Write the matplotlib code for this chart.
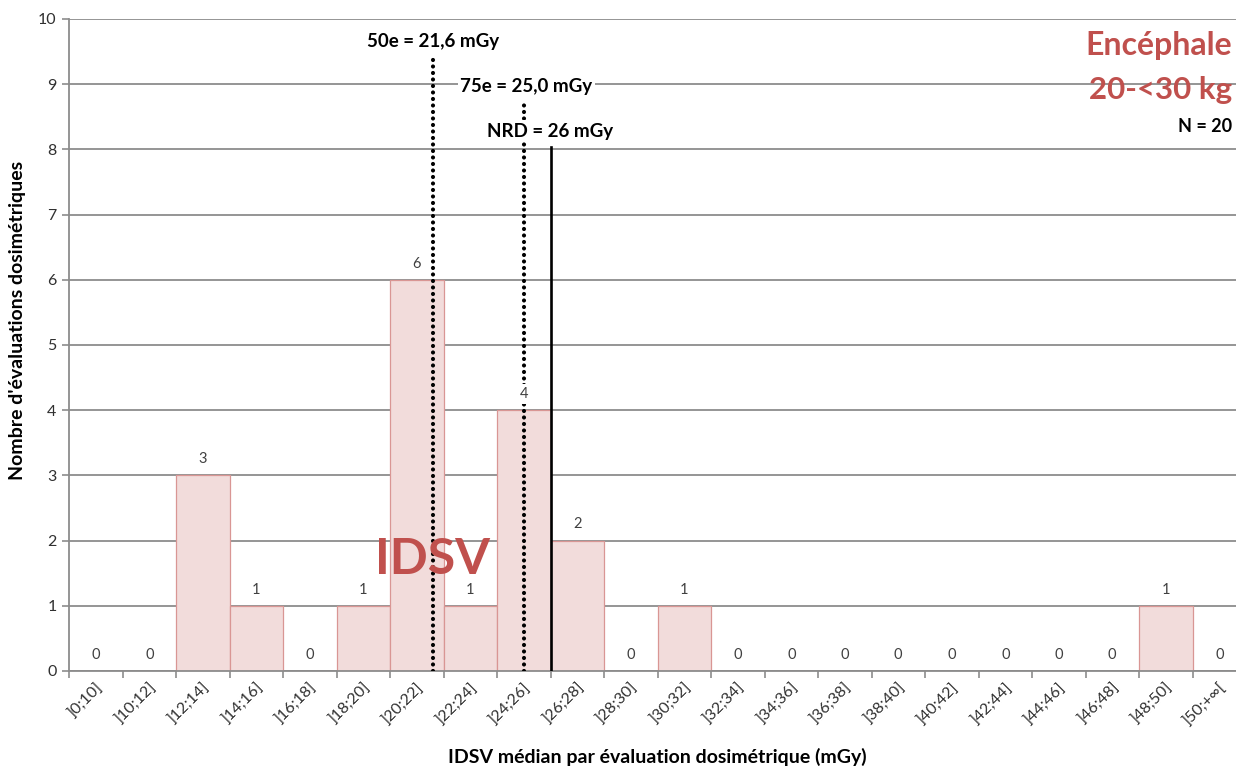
import numpy as np
import matplotlib
matplotlib.use("Agg")
import matplotlib.pyplot as plt

plt.rcParams['font.family'] = ['Lato', 'DejaVu Sans']

# Histogram bins (mGy) and number of dosimetric evaluations per bin
categories = [']0;10]', ']10;12]', ']12;14]', ']14;16]', ']16;18]', ']18;20]',
              ']20;22]', ']22;24]', ']24;26]', ']26;28]', ']28;30]', ']30;32]',
              ']32;34]', ']34;36]', ']36;38]', ']38;40]', ']40;42]', ']42;44]',
              ']44;46]', ']46;48]', ']48;50]', ']50;+∞[']
counts = [0, 0, 3, 1, 0, 1, 6, 1, 4, 2, 0, 1, 0, 0, 0, 0, 0, 0, 0, 0, 1, 0]

# Reference values (mGy)
p50 = 21.6
p75 = 25.0
nrd = 26

RED = '#C0504D'
GRID = '#8C8C8C'
TXT = '#404040'


def dose_to_x(v):
    """Place a dose value on the category axis (bins of 2 mGy above 10)."""
    return (v - 10) / 2 + 0.5


fig = plt.figure(figsize=(12.36, 7.67), dpi=100)
ax = fig.add_axes([69 / 1236, 1 - 671 / 767, (1246 - 69) / 1236, (671 - 19) / 767])

x = np.arange(len(categories))
ax.bar(x, counts, width=1.0, color='#F2DCDB', edgecolor='#D99694',
       linewidth=0.9, zorder=2)

for xi, c in zip(x, counts):
    ax.text(xi, c + 0.25, str(c), ha='center', va='center', fontsize=10.5,
            color=TXT, zorder=4,
            bbox=dict(boxstyle='square,pad=0.2', fc='white', ec='none') if c > 0 else None)

ax.set_xlim(-0.5, len(categories) - 0.5)
ax.set_ylim(0, 10)
ax.set_yticks(range(0, 11))
ax.yaxis.grid(True, color=GRID, linewidth=1.3, zorder=0)
ax.set_axisbelow(True)

ax.set_xticks(x)
ax.set_xticklabels(categories, rotation=45, ha='right', rotation_mode='anchor',
                   fontsize=11.5, color='#303030')
ax.set_xticks(np.arange(-0.5, len(categories) + 0.5, 1), minor=True)
ax.tick_params(axis='x', which='major', length=0, pad=7)
ax.tick_params(axis='x', which='minor', length=5, color=GRID, width=1.2)
ax.tick_params(axis='y', length=5, color=GRID, width=1.2, labelsize=11.5,
               labelcolor='#303030', pad=4)

for side in ['top', 'right']:
    ax.spines[side].set_visible(False)
for side in ['left', 'bottom']:
    ax.spines[side].set_color(GRID)
    ax.spines[side].set_linewidth(1.3)

# Percentile and NRD markers
dotted = (0, (0.01, 1.55))
ax.plot([dose_to_x(p50)] * 2, [0, 9.42], color='black', lw=3.0,
        linestyle=dotted, dash_capstyle='round', solid_capstyle='round', zorder=3)
ax.plot([dose_to_x(p75)] * 2, [0, 8.76], color='black', lw=3.0,
        linestyle=dotted, dash_capstyle='round', solid_capstyle='round', zorder=3)
ax.plot([dose_to_x(nrd)] * 2, [0, 8.04], color='black', lw=1.9, zorder=3)

lbl_box = dict(boxstyle='square,pad=0.15', fc='white', ec='none')
ax.text(dose_to_x(p50), 9.65, '50e = ' + f'{p50:.1f}'.replace('.', ',') + ' mGy',
        ha='center', va='center', fontsize=13.5, fontweight='bold', bbox=lbl_box, zorder=5)
ax.text(dose_to_x(p75) + 0.05, 8.97, '75e = ' + f'{p75:.1f}'.replace('.', ',') + ' mGy',
        ha='center', va='center', fontsize=13.5, fontweight='bold', bbox=lbl_box, zorder=5)
ax.text(dose_to_x(nrd), 8.28, f'NRD = {nrd} mGy',
        ha='center', va='center', fontsize=13.5, fontweight='bold', bbox=lbl_box, zorder=5)

# Title block at top right
fig.text(1232 / 1236, 1 - 45 / 767, 'Encéphale', ha='right', va='center',
         fontsize=23, fontweight='bold', color=RED)
fig.text(1232 / 1236, 1 - 90 / 767, '20-<30 kg', ha='right', va='center',
         fontsize=22.5, fontweight='bold', color=RED)
fig.text(1232 / 1236, 1 - 127 / 767, 'N = 20', ha='right', va='center',
         fontsize=13, fontweight='bold', color='black')

fig.text(433 / 1236, 1 - 560 / 767, 'IDSV', ha='center', va='center',
         fontsize=36, fontweight='bold', color=RED, zorder=6)

fig.text(18 / 1236, 1 - 320 / 767, "Nombre d'évaluations dosimétriques",
         rotation=90, ha='center', va='center', fontsize=14, fontweight='bold')
fig.text(657 / 1236, 1 - 757 / 767, 'IDSV médian par évaluation dosimétrique (mGy)',
         ha='center', va='center', fontsize=14, fontweight='bold')

fig.savefig('out.png', dpi=100, facecolor='white')
